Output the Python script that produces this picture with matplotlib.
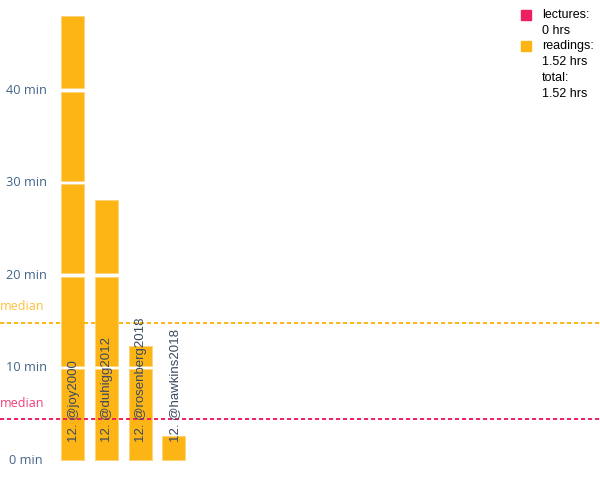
import matplotlib
matplotlib.use("Agg")
import matplotlib.pyplot as plt
from matplotlib.patches import Rectangle
import numpy as np

# minutes of reading per source
sources = ['12. @joy2000', '12. @duhigg2012', '12. @rosenberg2018', '12. @hawkins2018']
reading_min = [48.0, 28.1, 12.3, 2.6]
lecture_min = [0, 0, 0, 0]
reading_median = 14.85
lecture_median = 4.4
y_ticks = [0, 10, 20, 30, 40]
y_tick_labels = [f'{t} min' for t in y_ticks]
legend_names = ['lectures', 'readings']
legend_hours = ['0 hrs', '1.52 hrs']
total_hours = '1.52 hrs'

GOLD = '#FDB515'
ROSE = '#EE1F60'
TICK_BLUE = '#42648a'
LABEL_TXT = '#3a4a60'
chunk = 10
gap = 0.17

fig = plt.figure(figsize=(6, 4.8), dpi=100)
ax = fig.add_axes([0, 0, 1, 1])
ax.set_xlim(-2.145, 15.6)
ax.set_ylim(-2.16, 49.73)
ax.axis('off')

# stacked 10-minute chunks
for i, total in enumerate(reading_min):
    starts = np.arange(0, total, chunk)
    for s in starts:
        top = min(s + chunk, total)
        lo = s + (gap if s > 0 else 0)
        hi = top - (gap if top < total else 0)
        ax.bar(i, hi - lo, bottom=lo, width=0.68, color=GOLD,
               edgecolor='#fdd47a', linewidth=0.7, zorder=2)
    ax.text(i + 0.03, 1.9, sources[i], rotation=90, ha='center', va='bottom',
            fontsize=9.5, color=LABEL_TXT, family='Liberation Sans', zorder=4)

# medians
for val, col in [(reading_median, GOLD), (lecture_median, ROSE)]:
    ax.axhline(val, color=col, linestyle=(0, (2.1, 1.5)), linewidth=1.4, zorder=3)
    ax.text(-2.16, val + 1.75, 'median', color=col, alpha=0.85, fontsize=9,
            family='Open Sans', ha='left', va='center', zorder=4)

# y tick labels
for t, lab in zip(y_ticks, y_tick_labels):
    ax.text(-1.37, t, lab, color=TICK_BLUE, fontsize=9.2, family='Open Sans',
            ha='center', va='center')

# legend
def px(x, y):
    return x / 600, 1 - y / 480

for j, (name, hrs, col) in enumerate(zip(legend_names, legend_hours, [ROSE, GOLD])):
    y0 = 15 + j * 31
    x0, yb = px(521, y0 + 5)
    fig.patches.append(Rectangle((x0, yb), 10 / 600, 10 / 480, color=col,
                                 transform=fig.transFigure, figure=fig))
    fig.text(*px(542, y0), f'{name}:', fontsize=9, family='Liberation Sans', va='center')
    fig.text(*px(542, y0 + 16), hrs, fontsize=9, family='Liberation Sans', va='center')
fig.text(*px(542, 78), 'total:', fontsize=9, family='Liberation Sans', va='center')
fig.text(*px(542, 94), total_hours, fontsize=9, family='Liberation Sans', va='center')

fig.savefig('out.png', dpi=100)
